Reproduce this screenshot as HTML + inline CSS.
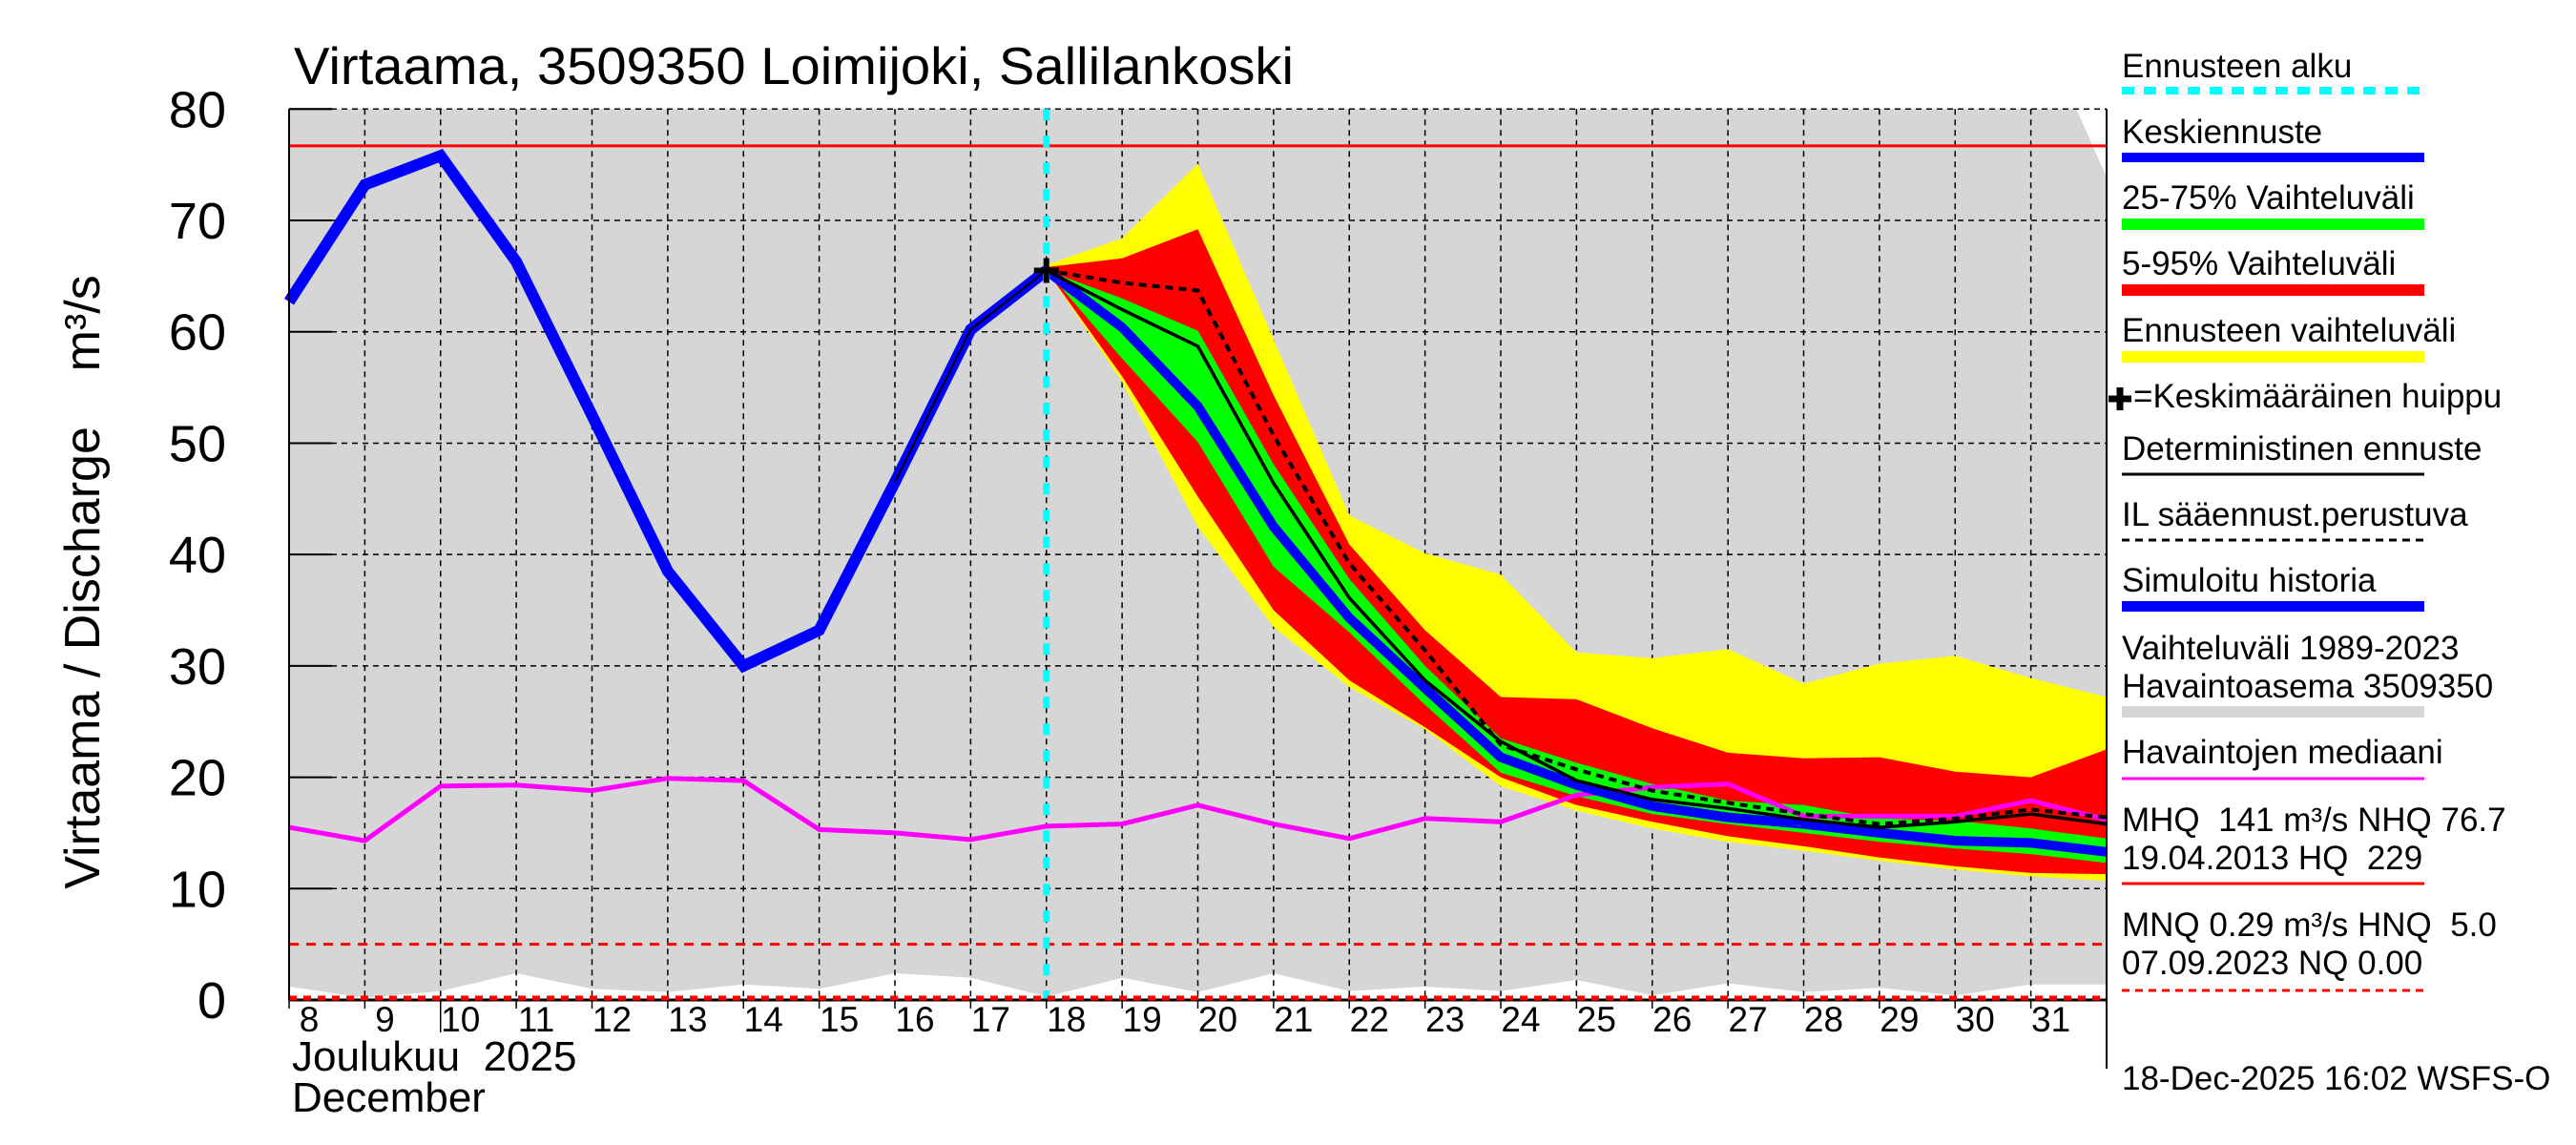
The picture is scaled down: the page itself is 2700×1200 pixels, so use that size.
<!DOCTYPE html>
<html><head><meta charset="utf-8"><style>
body{margin:0;background:#fff;}
svg{display:block;font-family:"Liberation Sans",sans-serif;}
</style></head><body>
<svg id="chart" width="2700" height="1200" viewBox="0 0 2700 1200" xmlns="http://www.w3.org/2000/svg">
<rect width="2700" height="1200" fill="#fff"/>
<text x="308" y="88" font-size="55" textLength="1048" lengthAdjust="spacingAndGlyphs">Virtaama, 3509350 Loimijoki, Sallilankoski</text>
<text transform="translate(104,610) rotate(-90)" text-anchor="middle" font-size="52" xml:space="preserve">Virtaama / Discharge    m³/s</text>
<g id="plot"></g>
<g id="xlabels"></g>
<text x="306" y="1122" font-size="44" xml:space="preserve">Joulukuu  2025</text>
<text x="306" y="1165" font-size="44">December</text>
<g id="legend" font-size="35">
<text x="2224" y="81">Ennusteen alku</text>
<line x1="2224" y1="95" x2="2541" y2="95" stroke="#00ffff" stroke-width="8" stroke-dasharray="13 10"/>
<text x="2224" y="150">Keskiennuste</text>
<rect x="2224" y="160" width="317" height="10" fill="#0000ff"/>
<text x="2224" y="219">25-75% Vaihteluväli</text>
<rect x="2224" y="229" width="317" height="12" fill="#00ff00"/>
<text x="2224" y="288">5-95% Vaihteluväli</text>
<rect x="2224" y="298" width="317" height="12" fill="#ff0000"/>
<text x="2224" y="358">Ennusteen vaihteluväli</text>
<rect x="2224" y="368" width="317" height="12" fill="#ffff00"/>
<path d="M2210 418h24M2222 406v24" stroke="#000" stroke-width="7"/>
<text x="2236" y="427">=Keskimääräinen huippu</text>
<text x="2224" y="482">Deterministinen ennuste</text>
<line x1="2224" y1="497" x2="2541" y2="497" stroke="#000" stroke-width="3"/>
<text x="2224" y="551">IL sääennust.perustuva</text>
<line x1="2224" y1="566" x2="2541" y2="566" stroke="#000" stroke-width="3" stroke-dasharray="8 6"/>
<text x="2224" y="620">Simuloitu historia</text>
<rect x="2224" y="630" width="317" height="11" fill="#0000ff"/>
<text x="2224" y="691">Vaihteluväli 1989-2023</text>
<text x="2224" y="731">Havaintoasema 3509350</text>
<rect x="2224" y="740" width="317" height="12" fill="#d6d6d6"/>
<text x="2224" y="800">Havaintojen mediaani</text>
<line x1="2224" y1="816" x2="2541" y2="816" stroke="#ff00ff" stroke-width="3"/>
<text x="2224" y="871" xml:space="preserve">MHQ  141 m³/s NHQ 76.7</text>
<text x="2224" y="911" xml:space="preserve">19.04.2013 HQ  229</text>
<line x1="2224" y1="926" x2="2541" y2="926" stroke="#ff0000" stroke-width="3"/>
<text x="2224" y="981" xml:space="preserve">MNQ 0.29 m³/s HNQ  5.0</text>
<text x="2224" y="1021">07.09.2023 NQ 0.00</text>
<line x1="2224" y1="1038" x2="2541" y2="1038" stroke="#ff0000" stroke-width="3" stroke-dasharray="8 6"/>
<text x="2224" y="1142">18-Dec-2025 16:02 WSFS-O</text>
</g>
</svg>
<script>
const histDays=[8,9,10,11,12,13,14,15,16,17,18];
const simHistory=[62.7,73.2,75.8,66.3,52.5,38.5,30.0,33.2,46.5,60.2,65.5];
const fcDays=[18,19,20,21,22,23,24,25,26,27,28,29,30,31,32];
const fcMedian=[65.5,60.4,53.3,42.5,34.3,28,21.8,19.3,17.4,16.4,15.8,15.0,14.3,14.1,13.3];
const green75=[65.5,63.0,60.1,48.1,37.8,30,23.5,21.3,19.4,17.9,17.5,16.3,16.1,15.4,14.5];
const green25=[65.5,57.6,50.1,38.9,33,26.5,20.4,18.3,16.7,15.8,15.0,14.2,13.6,13.1,12.3];
const red95=[65.8,66.6,69.2,54.3,40.9,33.2,27.2,27,24.4,22.2,21.7,21.8,20.5,20.0,22.5];
const red5=[65.5,56,45.2,35,28.7,24.5,20,17.5,16,14.7,13.8,12.8,12,11.4,11.3];
const yelMax=[66,68.4,75.1,59.3,43.5,40.1,38.2,31.2,30.7,31.5,28.4,30.2,30.9,28.9,27.2];
const yelMin=[65.5,55.5,42.5,33.5,28.1,24.3,19.2,17,15.4,14.2,13.4,12.5,11.7,11.1,10.7];
const determ=[65.5,62,58.7,46.4,36.1,28.7,23.2,19.7,18.0,17.2,16.2,15.5,16,16.7,15.8];
const ilFc=[65.5,64.4,63.7,50.7,39.2,31.4,22.9,20.7,18.8,17.7,16.7,15.8,16.3,17.1,16.4];
const allDays=[8,9,10,11,12,13,14,15,16,17,18,19,20,21,22,23,24,25,26,27,28,29,30,31,32];
const obsMedian=[15.5,14.3,19.2,19.3,18.8,19.9,19.7,15.3,15.0,14.4,15.6,15.8,17.5,15.8,14.5,16.3,16.0,18.4,19.1,19.4,16.5,16.5,16.5,17.9,16.2];
const histMin=[1.2,0.2,0.8,2.4,1,0.7,1.4,1,2.4,2,0.3,2,0.7,2.4,0.8,1.2,0.8,1.8,0.4,1.5,0.7,1.1,0.4,1.4,1.4];
const histMaxDays=[8,31.6,32];
const histMax=[80,80,73.9];
const yTicks=[0,10,20,30,40,50,60,70,80];
const dayLabels=[8,9,10,11,12,13,14,15,16,17,18,19,20,21,22,23,24,25,26,27,28,29,30,31];
const NHQ=76.7, HNQ=5.0, NQ=0, forecastStart=18, peakDay=18, peakVal=65.5;

const X0=303,X1=2208,Y0=1048,YT=114.3;
const xs=d=>X0+(d-8)*(X1-X0)/24;
const ys=v=>Y0-(v/80)*(Y0-YT);
const NS="http://www.w3.org/2000/svg";
const plot=document.getElementById('plot');
function mk(tag,attrs,parent){const e=document.createElementNS(NS,tag);for(const k in attrs)e.setAttribute(k,attrs[k]);(parent||plot).appendChild(e);return e;}
function pts(days,vals){return days.map((d,i)=>xs(d).toFixed(1)+','+ys(vals[i]).toFixed(1)).join(' ');}
function band(days,hi,lo){return pts(days,hi)+' '+pts(days.slice().reverse(),lo.slice().reverse());}

let e=mk('polygon',{points:pts(histMaxDays,histMax)+' '+pts(allDays.slice().reverse(),histMin.slice().reverse()),fill:'#d6d6d6'});


yTicks.forEach(v=>{const g=mk('line',{x1:X0,x2:X1,y1:ys(v),y2:ys(v),stroke:'#000','stroke-width':1.5,'stroke-dasharray':'6 5'});


mk('line',{x1:X0,x2:X0+45,y1:ys(v),y2:ys(v),stroke:'#000','stroke-width':2});
const t=mk('text',{x:237,y:ys(v)+19,'text-anchor':'end','font-size':54});t.textContent=v;

});
for(let d=9;d<=32;d++){const g=mk('line',{x1:xs(d),x2:xs(d),y1:YT,y2:Y0,stroke:'#000','stroke-width':1.5,'stroke-dasharray':'6 5'});

}
e=mk('polygon',{points:band(fcDays,yelMax,yelMin),fill:'#ffff00'});


e=mk('polygon',{points:band(fcDays,red95,red5),fill:'#ff0000'});


e=mk('polygon',{points:band(fcDays,green75,green25),fill:'#00ff00'});


e=mk('line',{x1:X0,x2:X1,y1:ys(NHQ),y2:ys(NHQ),stroke:'#ff0000','stroke-width':3});


e=mk('line',{x1:X0,x2:X1,y1:ys(HNQ),y2:ys(HNQ),stroke:'#ff0000','stroke-width':3,'stroke-dasharray':'10 8'});


e=mk('polyline',{points:pts(allDays,obsMedian),fill:'none',stroke:'#ff00ff','stroke-width':5});


e=mk('polyline',{points:pts(fcDays,fcMedian),fill:'none',stroke:'#0000ff','stroke-width':10});


e=mk('polyline',{points:pts(fcDays,determ),fill:'none',stroke:'#000','stroke-width':3.5});


e=mk('polyline',{points:pts(fcDays,ilFc),fill:'none',stroke:'#000','stroke-width':4,'stroke-dasharray':'8 6'});


e=mk('polyline',{points:pts(histDays,simHistory),fill:'none',stroke:'#0000ff','stroke-width':12});


e=mk('polyline',{points:pts(histDays.slice(-3),simHistory.slice(-3)),fill:'none',stroke:'#000','stroke-width':2});


e=mk('line',{x1:xs(forecastStart),x2:xs(forecastStart),y1:YT,y2:Y0,stroke:'#00ffff','stroke-width':7,'stroke-dasharray':'12 16'});


e=mk('path',{d:`M${xs(peakDay)-13} ${ys(peakVal)}h26M${xs(peakDay)} ${ys(peakVal)-13}v26`,stroke:'#000','stroke-width':6});


e=mk('line',{x1:X0,x2:X1,y1:Y0,y2:Y0,stroke:'#000','stroke-width':3});


e=mk('line',{x1:X0,x2:X1,y1:ys(NQ)-2,y2:ys(NQ)-2,stroke:'#ff0000','stroke-width':5,'stroke-dasharray':'8 7'});


e=mk('line',{x1:X0,x2:X0,y1:YT,y2:Y0,stroke:'#000','stroke-width':2});


mk('line',{x1:X0,x2:X0+45,y1:YT,y2:YT,stroke:'#000','stroke-width':2});
mk('line',{x1:X1,x2:X1,y1:YT,y2:1120,stroke:'#000','stroke-width':2});
dayLabels.forEach(d=>{mk('line',{x1:xs(d),x2:xs(d),y1:Y0,y2:d===10?1082:1057,stroke:'#000','stroke-width':1.5});
const t=mk('text',{x:xs(d)+21,y:1081,'text-anchor':'middle','font-size':37});t.textContent=d;

});
</script>
</body></html>
